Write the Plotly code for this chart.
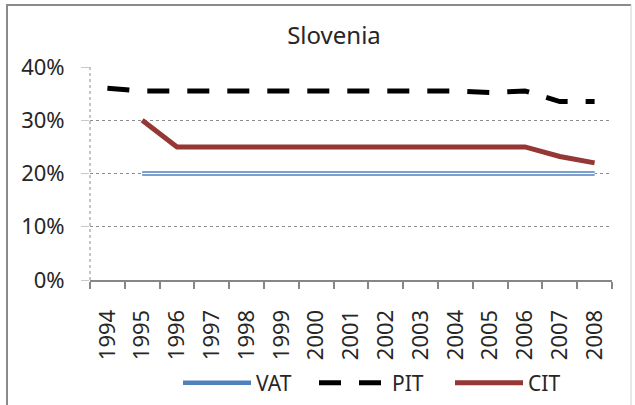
import plotly.graph_objects as go

years = [str(y) for y in range(1994, 2009)]
vat = [None, 0.20, 0.20, 0.20, 0.20, 0.20, 0.20, 0.20, 0.20, 0.20, 0.20, 0.20, 0.20, 0.20, 0.20]
pit = [0.360, 0.355, 0.355, 0.355, 0.355, 0.355, 0.355, 0.355, 0.355, 0.355, 0.355, 0.352, 0.355, 0.335, 0.335]
cit = [None, 0.30, 0.25, 0.25, 0.25, 0.25, 0.25, 0.25, 0.25, 0.25, 0.25, 0.25, 0.25, 0.232, 0.22]
y_ticks = [0, 0.1, 0.2, 0.3, 0.4]

FONT = "Noto Sans"
TXT = "#262626"

fig = go.Figure()
fig.add_trace(go.Scatter(x=years, y=vat, name="VAT", mode="lines",
                         line=dict(color="#4F81BD", width=4.5)))
fig.add_trace(go.Scatter(x=years, y=vat, name="VAT", mode="lines", showlegend=False,
                         line=dict(color="white", width=1.5)))
fig.add_trace(go.Scatter(x=years, y=pit, name="PIT", mode="lines",
                         line=dict(color="black", width=5, dash="22px,18px")))
fig.add_trace(go.Scatter(x=years, y=cit, name="CIT", mode="lines",
                         line=dict(color="#953735", width=5)))

L, R, T, B = 90, 23, 67, 125
W, H = 635, 405
pw, ph = W - L - R, H - T - B

def px(x):
    return (x - L) / pw

def py(y):
    return (H - B - y) / ph

fig.update_layout(
    width=W, height=H,
    margin=dict(l=L, r=R, t=T, b=B, autoexpand=False),
    paper_bgcolor="white", plot_bgcolor="white",
    font=dict(family=FONT, size=21, color=TXT),
    title=dict(text="Slovenia", x=334 / W, xanchor="center", xref="container",
               y=1 - 36 / H, yanchor="middle", yref="container",
               font=dict(family=FONT, size=24, color=TXT)),
    showlegend=True,
    legend=dict(orientation="h", x=px(178), xanchor="left", y=py(383), yanchor="middle",
                font=dict(family=FONT, size=21, color=TXT), itemwidth=68,
                entrywidth=53, entrywidthmode="pixels",
                bgcolor="rgba(0,0,0,0)", traceorder="normal"),
    xaxis=dict(type="category", range=[-0.5, len(years) - 0.5], tickson="boundaries",
               ticks="outside", ticklen=7,
               tickcolor="#868686", tickwidth=1.5, showline=True, linecolor="#868686",
               linewidth=2, showgrid=False, tickangle=-90, zeroline=False, automargin=False,
               tickfont=dict(family=FONT, size=22, color=TXT), ticklabelstandoff=19),
    yaxis=dict(range=[0, 0.4], tickvals=y_ticks, tickformat=".0%", showgrid=True,
               gridcolor="#8c8c8c", griddash="dot", gridwidth=1, zeroline=False,
               showline=False, ticks="outside", ticklen=8, tickcolor="#c8c8c8", automargin=False,
               tickfont=dict(family=FONT, size=22, color=TXT), ticklabelstandoff=12),
    shapes=[
        dict(type="line", xref="paper", yref="paper", x0=0, x1=0, y0=0, y1=1,
             line=dict(color="#8c8c8c", width=1, dash="dot")),
        dict(type="line", xref="paper", yref="paper", x0=px(7), x1=px(7), y0=py(4), y1=py(406),
             line=dict(color="#8a8a8a", width=2)),
        dict(type="line", xref="paper", yref="paper", x0=px(6), x1=px(631), y0=py(5), y1=py(5),
             line=dict(color="#8a8a8a", width=2)),
        dict(type="line", xref="paper", yref="paper", x0=px(631), x1=px(631), y0=py(5), y1=py(406),
             line=dict(color="#d0d0d0", width=1)),
    ],
)

fig.write_html("out.html", config={"displayModeBar": False},
               post_script="document.body.style.margin='0';document.body.style.overflow='hidden';")
